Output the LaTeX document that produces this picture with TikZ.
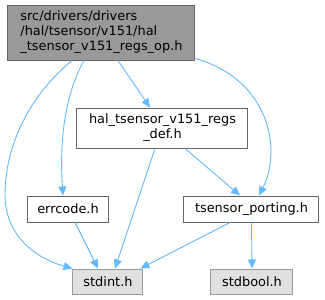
\documentclass[tikz,border=0pt]{standalone}
\usepackage{fontspec}
\setmainfont{DejaVu Sans}
\usepackage{xcolor}
\definecolor{colEdge}{HTML}{63B8FF}
\definecolor{colMain}{HTML}{999999}
\definecolor{colMainLine}{HTML}{666666}
\definecolor{colSys}{HTML}{E0E0E0}
\definecolor{colSysLine}{HTML}{999999}
\usepackage{tikz}
\usetikzlibrary{arrows.meta, positioning}

\begin{document}
\begin{tikzpicture}[
				x=1pt, y=-1pt,
				every node/.style={font=\fontsize{12.9}{15}\selectfont, inner sep=0pt},
				hdr/.style={draw=colMainLine, fill=white, line width=1pt, align=center},
				mainhdr/.style={hdr, fill=colMain, align=left},
				syshdr/.style={hdr, draw=colSysLine, fill=colSys},
				dep/.style={colEdge, line width=0.9pt, -{Triangle[length=9pt, width=8pt]}}
			]
				\useasboundingbox (0,0) rectangle (325,300);
				\node[mainhdr, minimum width=187pt, minimum height=55pt]
				     (top) at (101.5,32.5) {src/drivers/drivers\\/hal/tsensor/v151/hal\\\_tsensor\_v151\_regs\_op.h};
				\node[hdr, minimum width=171pt, minimum height=40pt]
				     (regs) at (162.5,128) {hal\_tsensor\_v151\_regs\\\_def.h};
				\node[hdr, minimum width=82pt, minimum height=26pt]
				     (err) at (68,209) {errcode.h};
				\node[hdr, minimum width=135pt, minimum height=26pt]
				     (port) at (251.5,209) {tsensor\_porting.h};
				\node[syshdr, minimum width=70pt, minimum height=25pt]
				     (stdint) at (108,281.5) {stdint.h};
				\node[syshdr, minimum width=82pt, minimum height=25pt]
				     (stdbool) at (252,281.5) {stdbool.h};
				% from the main header
				\draw[dep] ([xshift=-29.5pt]top.south) .. controls (30,95) and (5,145) .. (5,195)
				     .. controls (5,235) and (35,258) .. (stdint.north west);
				\draw[dep] ([xshift=-17.5pt]top.south) .. controls (62,100) and (60,150) .. ([xshift=-5pt]err.north);
				\draw[dep] ([xshift=16.5pt]top.south) -- ([xshift=-12.5pt]regs.north);
				\draw[dep] ([yshift=2pt]top.south east) .. controls (270,80) and (282,150) .. ([xshift=7.5pt]port.north);
				% the rest
				\draw[dep] ([xshift=-7.5pt]regs.south) -- ([xshift=7pt]stdint.north);
				\draw[dep] ([xshift=22.5pt]regs.south) -- ([xshift=-11.5pt]port.north);
				\draw[dep] ([xshift=7pt]err.south) -- ([xshift=-10pt]stdint.north);
				\draw[dep] ([xshift=-21.5pt]port.south) -- ([xshift=-3pt]stdint.north east);
				\draw[dep] (port.south) -- (stdbool.north);
			\end{tikzpicture}
\end{document}
